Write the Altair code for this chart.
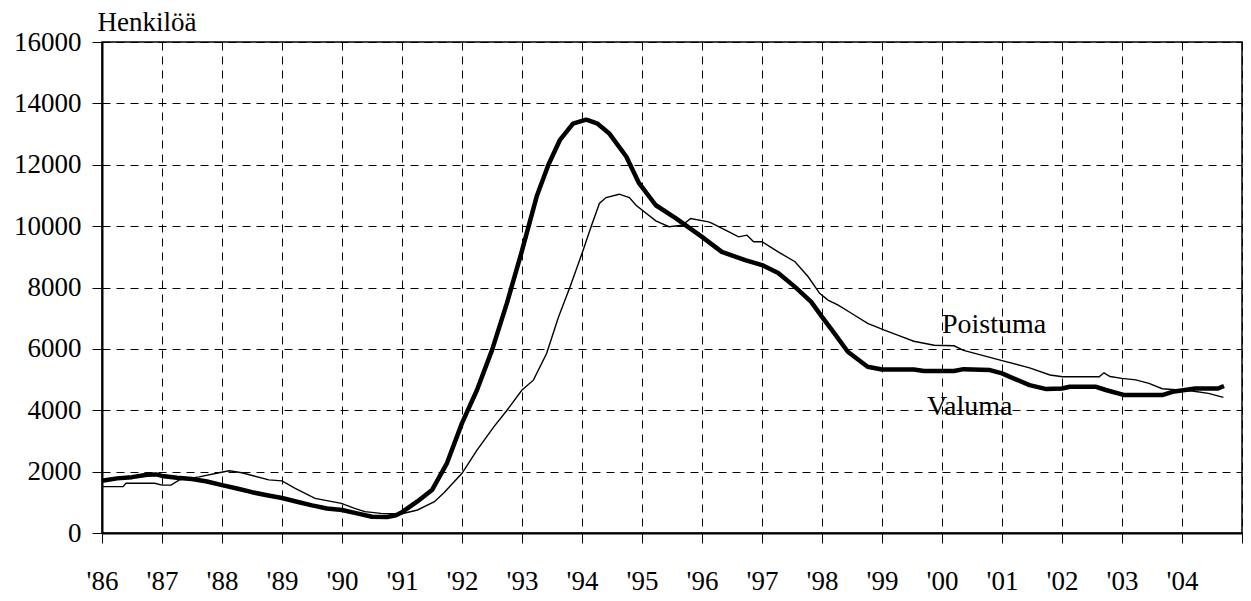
import altair as alt
import pandas as pd

# Valuma (thick line): decimal year, persons
valuma_t = [1986.0, 1986.25, 1986.5, 1986.75, 1986.9, 1987.0, 1987.25, 1987.5, 1987.75,
            1988.0, 1988.25, 1988.5, 1988.75, 1989.0, 1989.25, 1989.5, 1989.75, 1990.0,
            1990.25, 1990.5, 1990.75, 1990.9, 1991.0, 1991.25, 1991.5, 1991.75, 1992.0,
            1992.25, 1992.5, 1992.75, 1993.0, 1993.25, 1993.44, 1993.63, 1993.85, 1994.07,
            1994.25, 1994.45, 1994.74, 1994.95, 1995.23, 1995.56, 1996.0, 1996.33, 1996.72,
            1997.0, 1997.27, 1997.55, 1997.82, 1998.0, 1998.21, 1998.43, 1998.76, 1999.0,
            1999.53, 1999.7, 2000.2, 2000.36, 2000.8, 2001.0, 2001.19, 2001.46, 2001.74,
            2002.0, 2002.13, 2002.57, 2002.73, 2003.04, 2003.67, 2003.84, 2004.05, 2004.22,
            2004.6, 2004.7]
valuma_v = [1700, 1780, 1820, 1900, 1910, 1860, 1800, 1760, 1680,
            1560, 1450, 1330, 1230, 1140, 1020, 900, 800, 750,
            640, 530, 520, 580, 680, 1020, 1400, 2280, 3580,
            4660, 5960, 7500, 9200, 11000, 12000, 12800, 13340, 13470,
            13350, 13030, 12260, 11400, 10680, 10260, 9650, 9160, 8890,
            8730, 8470, 8020, 7530, 7045, 6500, 5905, 5420, 5330,
            5330, 5280, 5280, 5340, 5310, 5200, 5040, 4820, 4690,
            4710, 4765, 4765, 4660, 4495, 4495, 4600, 4660, 4710,
            4710, 4790]

# Poistuma (thin line)
poistuma_t = [1986.0, 1986.35, 1986.4, 1986.88, 1987.0, 1987.15, 1987.29, 1987.62, 1987.95,
              1988.12, 1988.33, 1988.78, 1989.0, 1989.22, 1989.55, 1989.99, 1990.21, 1990.38,
              1990.65, 1990.98, 1991.26, 1991.54, 1991.7, 1992.0, 1992.25, 1992.53, 1992.75,
              1993.0, 1993.19, 1993.41, 1993.61, 1993.8, 1994.02, 1994.16, 1994.29, 1994.4,
              1994.62, 1994.79, 1994.9, 1995.23, 1995.45, 1995.67, 1995.81, 1996.11, 1996.17,
              1996.45, 1996.61, 1996.75, 1996.86, 1997.0, 1997.27, 1997.55, 1997.77, 1997.96,
              1998.1, 1998.27, 1998.49, 1998.76, 1999.04, 1999.26, 1999.53, 1999.87, 2000.2,
              2000.36, 2000.97, 2001.46, 2001.8, 2002.01, 2002.62, 2002.7, 2002.8, 2003.0,
              2003.23, 2003.45, 2003.67, 2003.95, 2004.17, 2004.44, 2004.69]
poistuma_v = [1510, 1510, 1620, 1620, 1560, 1560, 1730, 1830, 1965,
              2030, 1965, 1730, 1700, 1455, 1130, 965, 800, 695,
              640, 620, 750, 1020, 1310, 1945, 2700, 3460, 4000,
              4660, 4980, 5850, 7045, 8020, 9220, 10030, 10740, 10930,
              11040, 10930, 10680, 10170, 9980, 10030, 10250, 10140, 10090,
              9810, 9650, 9705, 9490, 9490, 9160, 8840, 8350, 7810,
              7590, 7425, 7160, 6830, 6610, 6450, 6250, 6120, 6100,
              5950, 5635, 5380, 5150, 5090, 5090, 5220, 5100, 5040,
              4990, 4875, 4700, 4660, 4625, 4550, 4420]

label_text = ["Poistuma", "Valuma"]
label_t = [2000.0, 1999.75]
label_v = [6515, 3843]

year_ticks = list(range(1986, 2006))
y_ticks = list(range(0, 16001, 2000))

FONT = "Liberation Serif"

df_val = pd.DataFrame({"t": valuma_t, "v": valuma_v})
df_poi = pd.DataFrame({"t": poistuma_t, "v": poistuma_v})
df_lab = pd.DataFrame({"t": label_t, "v": label_v, "txt": label_text})

x_enc = alt.X(
    "t:Q",
    scale=alt.Scale(domain=[1986, 2005], nice=False, zero=False),
    axis=alt.Axis(
        values=year_ticks,
        labelExpr="datum.value < 2005 ? \"'\" + substring(toString(datum.value), 2) : ''",
        title=None,
        grid=True, gridDash=[8, 6], gridColor="black", gridWidth=1, gridOpacity=1,
        domainColor="black", domainWidth=2,
        tickColor="black", tickSize=10, tickWidth=1,
        labelFont=FONT, labelFontSize=27, labelColor="black", labelPadding=25,
        labelFlush=False, labelOverlap=False,
    ),
)
y_enc = alt.Y(
    "v:Q",
    scale=alt.Scale(domain=[0, 16000], nice=False),
    axis=alt.Axis(
        values=y_ticks,
        format="d",
        title="Henkilöä",
        titleAngle=0, titleX=-5, titleY=-12, titleAlign="left", titleBaseline="alphabetic",
        titleFont=FONT, titleFontSize=27, titleFontWeight="normal", titleColor="black",
        grid=True, gridDash=[8, 6], gridColor="black", gridWidth=1, gridOpacity=1,
        domainColor="black", domainWidth=2,
        tickColor="black", tickSize=10, tickWidth=1,
        labelFont=FONT, labelFontSize=27, labelColor="black", labelPadding=11,
        labelFlush=False, labelOverlap=False,
    ),
)

poi = alt.Chart(df_poi).mark_line(color="black", strokeWidth=1.4).encode(x=x_enc, y=y_enc)
val = alt.Chart(df_val).mark_line(color="black", strokeWidth=4.5, strokeJoin="round").encode(x="t:Q", y="v:Q")
lab = alt.Chart(df_lab).mark_text(
    align="left", baseline="alphabetic", font=FONT, fontSize=28, color="black"
).encode(x="t:Q", y="v:Q", text="txt:N")

chart = (
    alt.layer(poi, val, lab)
    .properties(
        width=1140,
        height=491,
        autosize=alt.AutoSizeParams(type="none"),
        padding={"left": 94, "top": 34, "right": 1, "bottom": 61},
        background="white",
    )
    .configure(font=FONT)
    .configure_axis(labelFont=FONT, titleFont=FONT)
    .configure_view(stroke="black", strokeWidth=1.5)
)

chart.save("out.html", embed_options={"renderer": "svg", "actions": False})
